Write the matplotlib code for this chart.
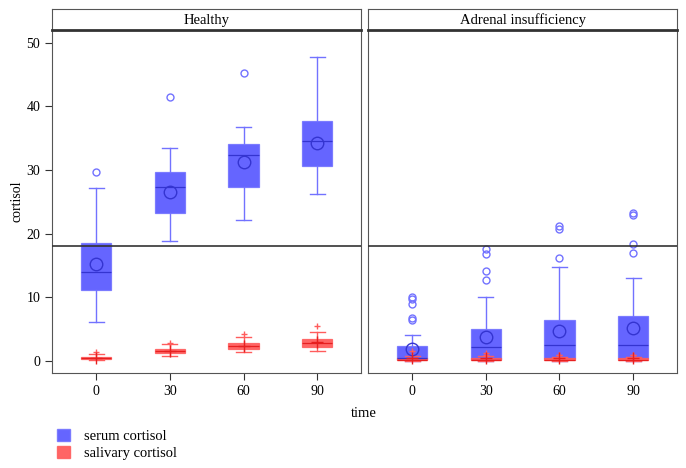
#!/usr/bin/env python3
"""Serum vs salivary cortisol box plots, healthy vs adrenal insufficiency."""

import matplotlib

matplotlib.use("Agg")
import matplotlib.pyplot as plt
from matplotlib.patches import Patch

plt.rcParams["font.family"] = ["Liberation Serif", "DejaVu Serif"]

times = ["0", "30", "60", "90"]
panels = ["Healthy", "Adrenal insufficiency"]
reference_line = 18

# five-number summaries: low whisker, q1, median, q3, high whisker
healthy_serum_whislo = [6.1, 18.8, 22.1, 26.3]
healthy_serum_q1 = [11.2, 23.2, 27.4, 30.7]
healthy_serum_med = [13.9, 27.4, 32.3, 34.6]
healthy_serum_q3 = [18.5, 29.7, 34.1, 37.7]
healthy_serum_whishi = [27.2, 33.4, 36.8, 47.7]
healthy_serum_mean = [15.2, 26.5, 31.2, 34.3]
healthy_serum_out = [[29.7], [41.4], [45.3], []]

healthy_saliva_whislo = [0.1, 0.8, 1.4, 1.6]
healthy_saliva_q1 = [0.3, 1.2, 1.8, 2.25]
healthy_saliva_med = [0.45, 1.5, 2.3, 2.8]
healthy_saliva_q3 = [0.65, 1.85, 2.8, 3.4]
healthy_saliva_whishi = [1.1, 2.6, 3.7, 4.5]
healthy_saliva_mean = [0.5, 1.5, 2.3, 2.9]
healthy_saliva_out = [[1.4], [2.8], [4.2], [5.5]]

adrenal_serum_whislo = [0.0, 0.0, 0.0, 0.0]
adrenal_serum_q1 = [0.3, 0.3, 0.4, 0.4]
adrenal_serum_med = [0.5, 2.2, 2.5, 2.5]
adrenal_serum_q3 = [2.4, 5.0, 6.4, 7.1]
adrenal_serum_whishi = [4.1, 10.1, 14.7, 13.1]
adrenal_serum_mean = [1.9, 3.8, 4.7, 5.2]
adrenal_serum_out = [
    [6.4, 6.8, 8.9, 9.7, 10.1],
    [12.7, 14.2, 16.8, 17.6],
    [16.1, 20.8, 21.2],
    [17.0, 18.4, 23.0, 23.3],
]

adrenal_saliva_whislo = [0.0, 0.0, 0.0, 0.0]
adrenal_saliva_q1 = [0.1, 0.1, 0.1, 0.1]
adrenal_saliva_med = [0.2, 0.2, 0.2, 0.2]
adrenal_saliva_q3 = [0.4, 0.4, 0.4, 0.4]
adrenal_saliva_whishi = [0.8, 0.7, 0.6, 0.6]
adrenal_saliva_mean = [0.5, 0.5, 0.4, 0.4]
adrenal_saliva_out = [[1.0, 1.6], [1.0, 1.3], [0.9, 1.0], [0.9, 1.0]]

BLUE = "#4a4aff"
BLUE_LINE = "#7272ff"
BLUE_DARK = "#3434d0"
RED = "#ff4a4a"
RED_LINE = "#ff5c5c"
RED_DARK = "#e62020"


def make_stats(whislo, q1, med, q3, whishi, mean, fliers):
    return [
        {"whislo": a, "q1": b, "med": c, "q3": d, "whishi": e, "mean": m, "fliers": f}
        for a, b, c, d, e, m, f in zip(whislo, q1, med, q3, whishi, mean, fliers)
    ]


def draw(ax, stats, face, line, dark, flier_marker, mean_marker, mean_size):
    ax.bxp(
        stats,
        positions=range(len(times)),
        widths=0.41,
        patch_artist=True,
        showmeans=True,
        boxprops={"facecolor": face, "edgecolor": line, "alpha": 0.85, "linewidth": 0.9},
        medianprops={"color": dark, "linewidth": 0.9},
        whiskerprops={"color": line, "linewidth": 1.0},
        capprops={"color": line, "linewidth": 1.0},
        meanprops={"marker": mean_marker, "markerfacecolor": "none",
                   "markeredgecolor": dark, "markersize": mean_size, "markeredgewidth": 1.0},
        flierprops={"marker": flier_marker, "markerfacecolor": "none",
                    "markeredgecolor": line, "markersize": 5, "markeredgewidth": 1.0},
    )


fig = plt.figure(figsize=(6.86, 4.68), dpi=100)

serum = [
    make_stats(healthy_serum_whislo, healthy_serum_q1, healthy_serum_med, healthy_serum_q3,
               healthy_serum_whishi, healthy_serum_mean, healthy_serum_out),
    make_stats(adrenal_serum_whislo, adrenal_serum_q1, adrenal_serum_med, adrenal_serum_q3,
               adrenal_serum_whishi, adrenal_serum_mean, adrenal_serum_out),
]
saliva = [
    make_stats(healthy_saliva_whislo, healthy_saliva_q1, healthy_saliva_med, healthy_saliva_q3,
               healthy_saliva_whishi, healthy_saliva_mean, healthy_saliva_out),
    make_stats(adrenal_saliva_whislo, adrenal_saliva_q1, adrenal_saliva_med, adrenal_saliva_q3,
               adrenal_saliva_whishi, adrenal_saliva_mean, adrenal_saliva_out),
]

lefts = [0.0758, 0.5364]
width = 0.451
bottom, height = 0.203, 0.733
strip_h = 0.045

for i, name in enumerate(panels):
    ax = fig.add_axes([lefts[i], bottom, width, height])
    draw(ax, serum[i], BLUE, BLUE_LINE, BLUE_DARK, "o", "o", 9)
    draw(ax, saliva[i], RED, RED_LINE, RED_DARK, "+", "+", 9)
    ax.axhline(reference_line, color="#333333", linewidth=1.2, zorder=5)
    ax.set_xlim(-0.6, 3.6)
    ax.set_ylim(-1.9, 52)
    ax.set_xticks(range(len(times)))
    ax.set_xticklabels(times, fontsize=10)
    ax.tick_params(direction="out", length=5, color="#333333")
    for spine in ax.spines.values():
        spine.set_color("#555555")
    if i == 0:
        ax.set_yticks([0, 10, 20, 30, 40, 50])
        ax.tick_params(axis="y", labelsize=10)
        ax.set_ylabel("cortisol", fontsize=10, labelpad=2)
    else:
        ax.set_yticks([])
    strip = fig.add_axes([lefts[i], bottom + height, width, strip_h])
    strip.set_xticks([])
    strip.set_yticks([])
    for spine in strip.spines.values():
        spine.set_color("#555555")
    strip.spines["bottom"].set_linewidth(2.0)
    strip.spines["bottom"].set_color("#333333")
    strip.text(0.5, 0.45, name, ha="center", va="center", fontsize=10.5,
               transform=strip.transAxes)

fig.text(0.531, 0.117, "time", ha="center", va="center", fontsize=10.5)

handles = [Patch(facecolor=BLUE, alpha=0.85, edgecolor=BLUE_LINE, label="serum cortisol"),
           Patch(facecolor=RED, alpha=0.85, edgecolor=RED_LINE, label="salivary cortisol")]
fig.legend(handles=handles, loc="upper left", bbox_to_anchor=(0.075, 0.095),
           frameon=False, fontsize=10.5, handlelength=0.9, handleheight=0.9,
           handletextpad=0.9, labelspacing=0.15, borderaxespad=0)

fig.savefig("out.png", dpi=100)
